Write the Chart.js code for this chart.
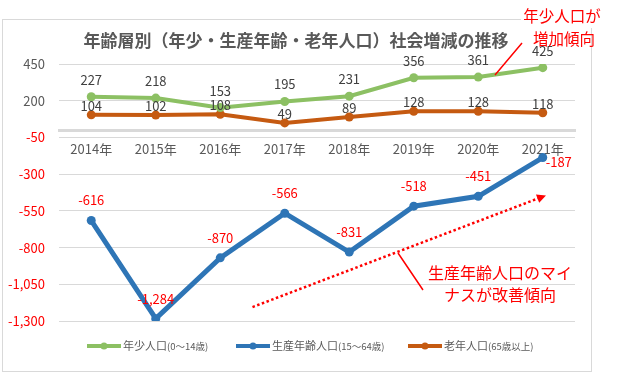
<!DOCTYPE html>
<html>
<head>
<meta charset="utf-8">
<script src="https://cdn.jsdelivr.net/npm/chart.js@4.4.1/dist/chart.umd.min.js"></script>
<style>
  html, body { margin: 0; padding: 0; background: #fff; }
  #wrap { position: relative; width: 619px; height: 374px; }
</style>
</head>
<body>
<div id="wrap"><canvas id="chart" width="619" height="374"></canvas></div>
<script>
// ---- data ----
const years = ['2014年', '2015年', '2016年', '2017年', '2018年', '2019年', '2020年', '2021年'];
const youth = [227, 218, 153, 195, 231, 356, 361, 425];          // 年少人口
const working = [-616, -1284, -870, -566, -831, -518, -451, -187]; // 生産年齢人口
const elderly = [104, 102, 108, 49, 89, 128, 128, 118];          // 老年人口
const yTicks = [450, 200, -50, -300, -550, -800, -1050, -1300];
const seriesNames = [
  ['年少人口', '(0～14歳)'],
  ['生産年齢人口', '(15～64歳)'],
  ['老年人口', '(65歳以上)']
];

const FONT = '"Noto Sans CJK JP", "Noto Sans", sans-serif';
const RED = '#FF0000';
const GRAY = '#595959';
const GREEN = '#8CC063';
const BLUE = '#2E75B6';
const ORANGE = '#C55A11';

// data labels above each point
const pointLabels = {
  id: 'pointLabels',
  afterDatasetsDraw(chart) {
    const ctx = chart.ctx;
    ctx.save();
    ctx.font = '13px ' + FONT;
    ctx.textAlign = 'center';
    ctx.textBaseline = 'middle';
    chart.data.datasets.forEach((ds, di) => {
      const meta = chart.getDatasetMeta(di);
      meta.data.forEach((pt, i) => {
        let dx = 0, dy = -ds.labelOffset;
        // last working-age label sits to the lower right in the original
        if (di === 1 && i === ds.data.length - 1) { dx = 16; dy = 5; }
        ctx.fillStyle = ds.labelColor;
        ctx.fillText(ds.data[i].toLocaleString('en-US'), pt.x + dx, pt.y + dy);
      });
    });
    ctx.restore();
  }
};

// frame, title, legend, annotations
const decorations = {
  id: 'decorations',
  beforeDraw(chart) {
    const ctx = chart.ctx;
    ctx.save();
    ctx.fillStyle = '#fff';
    ctx.fillRect(0, 0, chart.width, chart.height);
    ctx.strokeStyle = '#d9d9d9';
    ctx.lineWidth = 1;
    ctx.strokeRect(2.5, 19.5, 589, 352);
    ctx.restore();
  },
  afterDraw(chart) {
    const ctx = chart.ctx;
    const xs = chart.scales.x, ys = chart.scales.y;
    ctx.save();

    // title
    ctx.fillStyle = GRAY;
    ctx.font = 'bold 17px ' + FONT;
    ctx.textAlign = 'center';
    ctx.textBaseline = 'middle';
    ctx.fillText('年齢層別（年少・生産年齢・老年人口）社会増減の推移', 296, 41);

    // legend
    const colors = [GREEN, BLUE, ORANGE];
    const legendX = [87, 236, 408];
    const ly = 346;
    colors.forEach((c, k) => {
      const x0 = legendX[k];
      ctx.strokeStyle = c;
      ctx.lineWidth = 4;
      ctx.lineCap = 'butt';
      ctx.beginPath();
      ctx.moveTo(x0, ly);
      ctx.lineTo(x0 + 34, ly);
      ctx.stroke();
      ctx.fillStyle = c;
      ctx.beginPath();
      ctx.arc(x0 + 17, ly, 3.5, 0, Math.PI * 2);
      ctx.fill();
      ctx.fillStyle = GRAY;
      ctx.textAlign = 'left';
      ctx.font = '11px ' + FONT;
      ctx.fillText(seriesNames[k][0], x0 + 36, ly);
      const w = ctx.measureText(seriesNames[k][0]).width;
      ctx.font = '9.5px ' + FONT;
      ctx.fillText(seriesNames[k][1], x0 + 36 + w, ly + 0.5);
    });

    // dotted trend arrow (in data coordinates)
    const ax0 = xs.getPixelForValue(2.5), ay0 = ys.getPixelForValue(-1205);
    const ax1 = xs.getPixelForValue(7.05), ay1 = ys.getPixelForValue(-445);
    const ang = Math.atan2(ay1 - ay0, ax1 - ax0);
    ctx.strokeStyle = RED;
    ctx.fillStyle = RED;
    ctx.lineWidth = 2.5;
    ctx.setLineDash([2.5, 2.5]);
    ctx.beginPath();
    ctx.moveTo(ax0, ay0);
    ctx.lineTo(ax1 - 7 * Math.cos(ang), ay1 - 7 * Math.sin(ang));
    ctx.stroke();
    ctx.setLineDash([]);
    ctx.beginPath();
    ctx.moveTo(ax1, ay1);
    ctx.lineTo(ax1 - 9 * Math.cos(ang) + 4.5 * Math.sin(ang), ay1 - 9 * Math.sin(ang) - 4.5 * Math.cos(ang));
    ctx.lineTo(ax1 - 9 * Math.cos(ang) - 4.5 * Math.sin(ang), ay1 - 9 * Math.sin(ang) + 4.5 * Math.cos(ang));
    ctx.closePath();
    ctx.fill();

    // callout lines
    ctx.lineWidth = 1.5;
    ctx.beginPath();
    ctx.moveTo(522, 43); ctx.lineTo(495, 75);
    ctx.moveTo(398, 253); ctx.lineTo(423, 290);
    ctx.stroke();

    // annotation texts
    ctx.fillStyle = '#fff';
    ctx.fillRect(521, 4, 84, 24);
    ctx.fillStyle = RED;
    ctx.textAlign = 'center';
    ctx.font = '15.5px ' + FONT;
    ctx.fillText('年少人口が', 562, 16);
    ctx.fillText('増加傾向', 564, 39);
    ctx.font = '16px ' + FONT;
    ctx.fillText('生産年齢人口のマイ', 500, 273);
    ctx.fillText('ナスが改善傾向', 500, 295);

    ctx.restore();
  }
};

const lineSet = (label, data, color, width, labelColor, labelOffset) => ({
  label, data,
  borderColor: color,
  backgroundColor: color,
  borderWidth: width,
  pointRadius: 4.5,
  pointBorderWidth: 0,
  pointBackgroundColor: color,
  tension: 0,
  labelColor, labelOffset
});

new Chart(document.getElementById('chart'), {
  type: 'line',
  data: {
    labels: years,
    datasets: [
      lineSet(seriesNames[0].join(''), youth, GREEN, 4, '#404040', 17),
      lineSet(seriesNames[1].join(''), working, BLUE, 5, RED, 20),
      lineSet(seriesNames[2].join(''), elderly, ORANGE, 4, '#404040', 9)
    ]
  },
  options: {
    responsive: false,
    animation: false,
    devicePixelRatio: 1,
    layout: { padding: { left: 0, right: 44, top: 64, bottom: 53 } },
    plugins: {
      legend: { display: false },
      title: { display: false },
      tooltip: { enabled: false }
    },
    scales: {
      x: {
        type: 'category',
        offset: true,
        position: { y: 0 },
        grid: { display: false, drawTicks: false },
        border: { display: true, color: '#d9d9d9', width: 3 },
        ticks: {
          padding: 11,
          color: GRAY,
          font: { family: FONT, size: 13 },
          maxRotation: 0,
          autoSkip: false
        }
      },
      y: {
        min: Math.min(...yTicks),
        max: Math.max(...yTicks),
        afterBuildTicks: s => { s.ticks = yTicks.map(v => ({ value: v })); },
        afterFit: s => { s.width = 59; },
        grid: { color: '#d9d9d9', lineWidth: 1, drawTicks: false },
        border: { display: false },
        ticks: {
          padding: 14,
          color: c => (c.tick && c.tick.value < 0 ? RED : GRAY),
          font: { family: FONT, size: 13 },
          callback: v => v.toLocaleString('en-US')
        }
      }
    }
  },
  plugins: [pointLabels, decorations]
});
</script>
</body>
</html>
